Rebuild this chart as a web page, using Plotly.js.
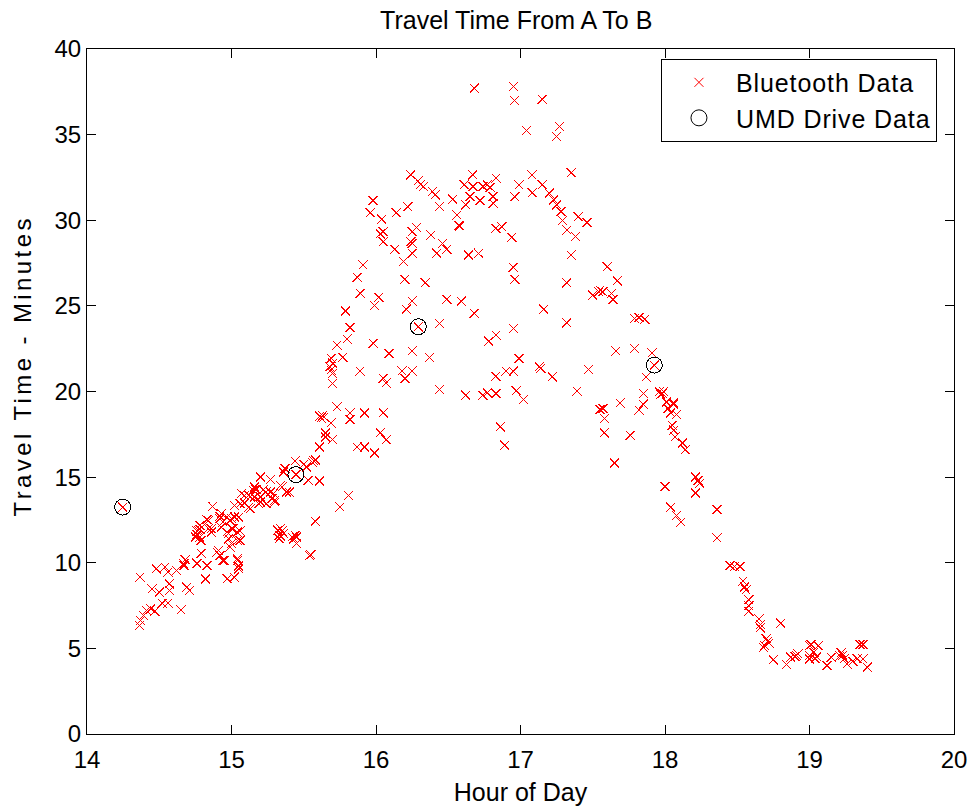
<!DOCTYPE html>
<html>
<head>
<meta charset="utf-8">
<script src="https://cdn.plot.ly/plotly-3.0.1.min.js"></script>
<style>
html,body{margin:0;padding:0;background:#fff;}
#chart{width:974px;height:808px;}
.scatterlayer .point{shape-rendering:crispEdges;}
.annotation-text{letter-spacing:3.4px;}
.legendtext{letter-spacing:0.9px;}
</style>
</head>
<body>
<div id="chart"></div>
<script>
// Bluetooth travel-time samples (hour of day, minutes)
const btHour = [
14.247,14.367,14.362,14.37,14.39,14.41,14.44,14.47,14.45,14.50,14.48,14.52,14.56,14.54,14.56,14.57,14.57,14.62,14.65,14.68,
14.67,14.69,14.71,14.76,14.79,14.82,14.83,14.75,14.77,14.76,14.78,14.84,14.87,14.86,14.90,14.92,14.94,14.93,14.95,14.97,
14.98,14.99,15.01,15.02,15.04,15.05,15.05,15.02,15.04,15.06,15.02,15.07,15.09,15.12,15.13,15.15,15.16,15.20,15.19,15.22,
15.24,15.27,15.28,15.30,15.35,15.34,15.36,15.33,15.36,15.40,15.44,15.45,15.45,15.446,15.52,15.54,
15.37,15.34,15.38,15.16,15.17,15.09,15.13,15.20,15.27,15.29,15.30,15.06,15.12,15.20,15.24,14.93,14.92,14.97,15.00,15.05,
14.83,14.78,14.76,14.78,14.79,14.84,14.86,14.97,15.00,15.06,14.98,15.04,15.00,14.99,14.91,14.92,14.67,14.76,14.94,15.04,
15.05,15.35,15.34,15.43,15.44,
16.05,16.13,16.25,16.25,16.19,16.42,16.46,16.49,15.91,15.87,16.20,16.34,15.89,16.02,15.99,16.25,16.21,16.49,15.79,15.82,
16.293,16.44,15.80,15.73,15.98,16.09,16.25,16.37,15.77,15.69,15.70,15.69,15.70,15.68,15.70,15.89,16.05,16.07,16.18,16.25,
16.20,16.44,15.73,15.61,15.62,15.63,15.64,15.69,15.82,15.82,15.92,16.05,15.65,15.70,15.65,15.61,16.03,16.07,15.87,15.92,
15.99,15.57,15.58,15.56,15.50,15.61,15.53,15.81,15.75,15.58,15.55,15.32,15.33,15.42,
16.68,16.95,16.96,17.15,17.04,17.27,17.25,17.35,16.24,16.29,16.33,16.31,16.39,16.41,16.22,16.14,16.04,16.44,16.53,16.56,
16.58,16.57,16.61,16.67,16.67,16.65,16.62,16.72,16.74,16.77,16.79,16.81,16.81,16.83,16.83,16.87,16.94,16.96,16.99,17.08,
17.08,17.15,17.20,17.23,17.25,17.28,17.29,17.32,17.38,17.40,17.46,16.28,16.25,16.38,16.24,16.05,
15.98,15.96,16.03,
16.64,16.71,16.95,16.96,17.35,17.32,17.50,17.54,16.59,16.68,17.16,17.32,16.83,16.78,16.95,16.99,17.13,17.14,17.47,16.83,
16.90,16.95,17.22,16.62,16.74,16.77,16.83,16.97,17.02,17.39,17.55,16.86,16.89,
17.60,17.67,17.55,17.57,17.63,17.64,17.79,17.82,17.86,17.66,17.79,17.91,17.926,17.87,17.85,17.96,17.98,17.99,17.97,17.69,
17.57,17.58,17.85,17.82,18.01,18.06,18.02,18.04,18.08,18.05,18.06,18.07,18.12,18.14,17.58,17.76,17.65,18.21,18.23,18.24,
18.00,
18.06,18.21,18.04,18.08,18.11,18.36,18.36,18.45,18.48,18.52,18.54,18.55,18.56,18.58,18.58,18.58,18.65,18.66,18.66,18.80,
18.70,18.71,18.72,18.69,18.68,18.75,18.84,18.90,18.92,19.00,19.03,19.00,
18.55,18.87,18.91,19.01,19.06,19.00,19.04,19.05,19.12,19.15,19.21,19.22,19.23,19.24,19.26,19.30,19.33,19.35,19.37,19.37,
19.40
];
const btMinutes = [
13.25,9.16,6.33,6.63,6.92,7.21,7.31,7.17,8.48,8.28,9.65,7.64,7.64,9.74,9.45,8.77,8.38,9.55,7.25,10.18,
9.84,8.57,8.38,9.98,10.56,9.06,9.84,11.50,11.89,11.65,11.95,12.47,13.29,11.99,10.62,12.71,12.38,12.08,10.13,9.06,
11.70,12.47,11.99,9.16,10.23,9.65,9.84,12.67,11.79,11.30,13.35,14.04,13.49,13.94,13.16,14.23,13.84,15.01,13.45,14.27,
14.13,14.85,13.74,13.55,14.42,11.99,11.70,11.40,15.30,14.13,15.94,11.50,11.11,15.15,15.59,10.43,
15.50,14.52,14.13,14.42,14.27,13.94,13.84,13.84,14.13,14.04,13.65,13.45,13.25,13.55,13.45,12.87,12.57,12.67,12.57,12.67,
12.51,12.18,11.85,11.50,11.30,11.99,11.79,11.79,11.99,11.85,11.40,11.30,11.11,10.91,10.72,10.43,9.94,9.94,10.13,10.13,
9.78,11.85,11.55,11.40,11.60,
28.75,28.30,28.65,28.07,27.58,28.07,28.65,28.30,27.39,26.67,26.55,26.35,25.73,25.50,25.01,25.28,24.80,25.38,24.70,23.74,
23.78,23.98,23.06,22.71,22.81,22.22,22.36,21.99,21.99,21.93,21.65,21.25,21.05,21.45,20.47,21.19,20.76,20.50,21.20,21.19,
20.76,20.12,19.10,18.55,18.45,18.60,18.50,18.16,18.75,18.36,18.75,18.75,17.58,17.19,17.35,16.76,17.58,17.19,16.76,16.76,
16.41,15.95,16.00,15.85,15.75,14.77,14.81,13.94,13.25,12.43,10.47,11.90,11.60,11.50,
37.72,37.81,36.99,37.07,35.24,35.47,34.89,32.78,32.65,32.30,31.97,32.10,31.67,31.48,30.80,30.45,30.06,30.80,31.23,30.31,
29.67,29.70,32.07,32.65,31.97,31.38,30.90,31.15,31.97,32.07,31.93,31.38,30.99,32.46,29.53,29.63,29.01,31.38,32.07,32.65,
31.61,32.07,31.58,31.19,30.90,30.51,29.98,29.43,29.04,30.21,29.86,29.59,29.33,29.14,28.75,29.33,
31.15,30.45,29.20,
27.97,28.07,27.25,26.55,27.97,26.35,25.63,25.82,25.28,24.56,24.80,24.01,23.29,22.94,23.68,21.93,21.44,21.35,21.28,20.89,
21.19,21.19,20.85,19.78,19.78,19.92,19.88,20.04,19.53,20.02,18.95,17.93,16.86,
27.29,26.46,25.92,25.82,25.73,25.38,24.27,24.33,24.21,22.36,22.51,22.26,21.54,20.85,19.88,19.98,19.90,20.00,19.85,19.33,
19.01,18.42,19.26,18.91,19.39,19.33,19.01,18.75,18.67,18.03,17.74,17.35,16.99,16.61,17.58,17.44,15.82,15.01,14.81,14.65,
14.46,
19.26,14.07,13.25,12.77,12.38,13.10,11.46,9.84,9.78,9.78,8.92,8.54,8.42,7.84,7.50,7.17,6.72,6.39,6.20,6.47,
5.56,5.40,5.30,5.15,5.05,4.33,4.05,4.52,4.68,5.16,4.77,4.39,
8.60,4.48,4.60,5.22,5.16,4.58,4.40,4.50,4.00,4.48,4.55,4.75,4.60,4.40,4.09,4.25,4.39,5.22,5.22,4.39,
3.90
];
// UMD drive samples
const umdHour = [14.247, 15.446, 16.293, 17.926];
const umdMinutes = [13.25, 15.15, 23.78, 21.54];

const xTicks = [14, 15, 16, 17, 18, 19, 20];
const yTicks = [0, 5, 10, 15, 20, 25, 30, 35, 40];

const FONT = 'Liberation Sans, Arial, Helvetica, sans-serif';
const FS = 24;

const traces = [
  {
    type: 'scatter', mode: 'markers', name: 'Bluetooth Data',
    x: btHour, y: btMinutes,
    marker: {symbol: 'x-thin-open', size: 9, color: '#ff0000', line: {color: '#ff0000', width: 1}}
  },
  {
    type: 'scatter', mode: 'markers', name: 'UMD Drive Data',
    x: umdHour, y: umdMinutes,
    marker: {symbol: 'circle-open', size: 16, color: '#000000', line: {color: '#000000', width: 1}}
  }
];

const axisCommon = {
  showline: true, linecolor: '#000', linewidth: 1, mirror: 'ticks',
  ticks: 'inside', ticklen: 9, tickwidth: 1, tickcolor: '#000',
  showgrid: false, zeroline: false,
  tickfont: {family: FONT, size: FS, color: '#000'}
};

const layout = {
  width: 974, height: 808,
  paper_bgcolor: '#fff', plot_bgcolor: '#fff',
  margin: {l: 87, r: 20, t: 49, b: 74},
  showlegend: true,
  font: {family: FONT, size: FS, color: '#000'},
  title: {text: 'Travel Time From A To B', font: {family: FONT, size: 25, color: '#000'},
          x: 0.53, xanchor: 'center', y: 0.975, yanchor: 'middle'},
  xaxis: Object.assign({}, axisCommon, {
    range: [14, 20], tickmode: 'array', tickvals: xTicks, ticktext: xTicks.map(String),
    ticklabelstandoff: 4,
    title: {text: 'Hour of Day', font: {family: FONT, size: 25, color: '#000'}, standoff: 11}
  }),
  yaxis: Object.assign({}, axisCommon, {
    range: [0, 40], tickmode: 'array', tickvals: yTicks, ticktext: yTicks.map(String)
  }),
  annotations: [{
    text: 'Travel Time - Minutes', textangle: -90,
    xref: 'paper', yref: 'paper', x: -0.075, y: 0.538,
    xanchor: 'center', yanchor: 'middle', showarrow: false,
    font: {family: FONT, size: FS, color: '#000'}
  }],
  legend: {
    x: 0.662, y: 0.986, xanchor: 'left', yanchor: 'top',
    bgcolor: '#fff', bordercolor: '#000', borderwidth: 1,
    font: {family: FONT, size: 25, color: '#000'},
    itemwidth: 64
  }
};

Plotly.newPlot('chart', traces, layout, {displayModeBar: false, staticPlot: true});
</script>
</body>
</html>
